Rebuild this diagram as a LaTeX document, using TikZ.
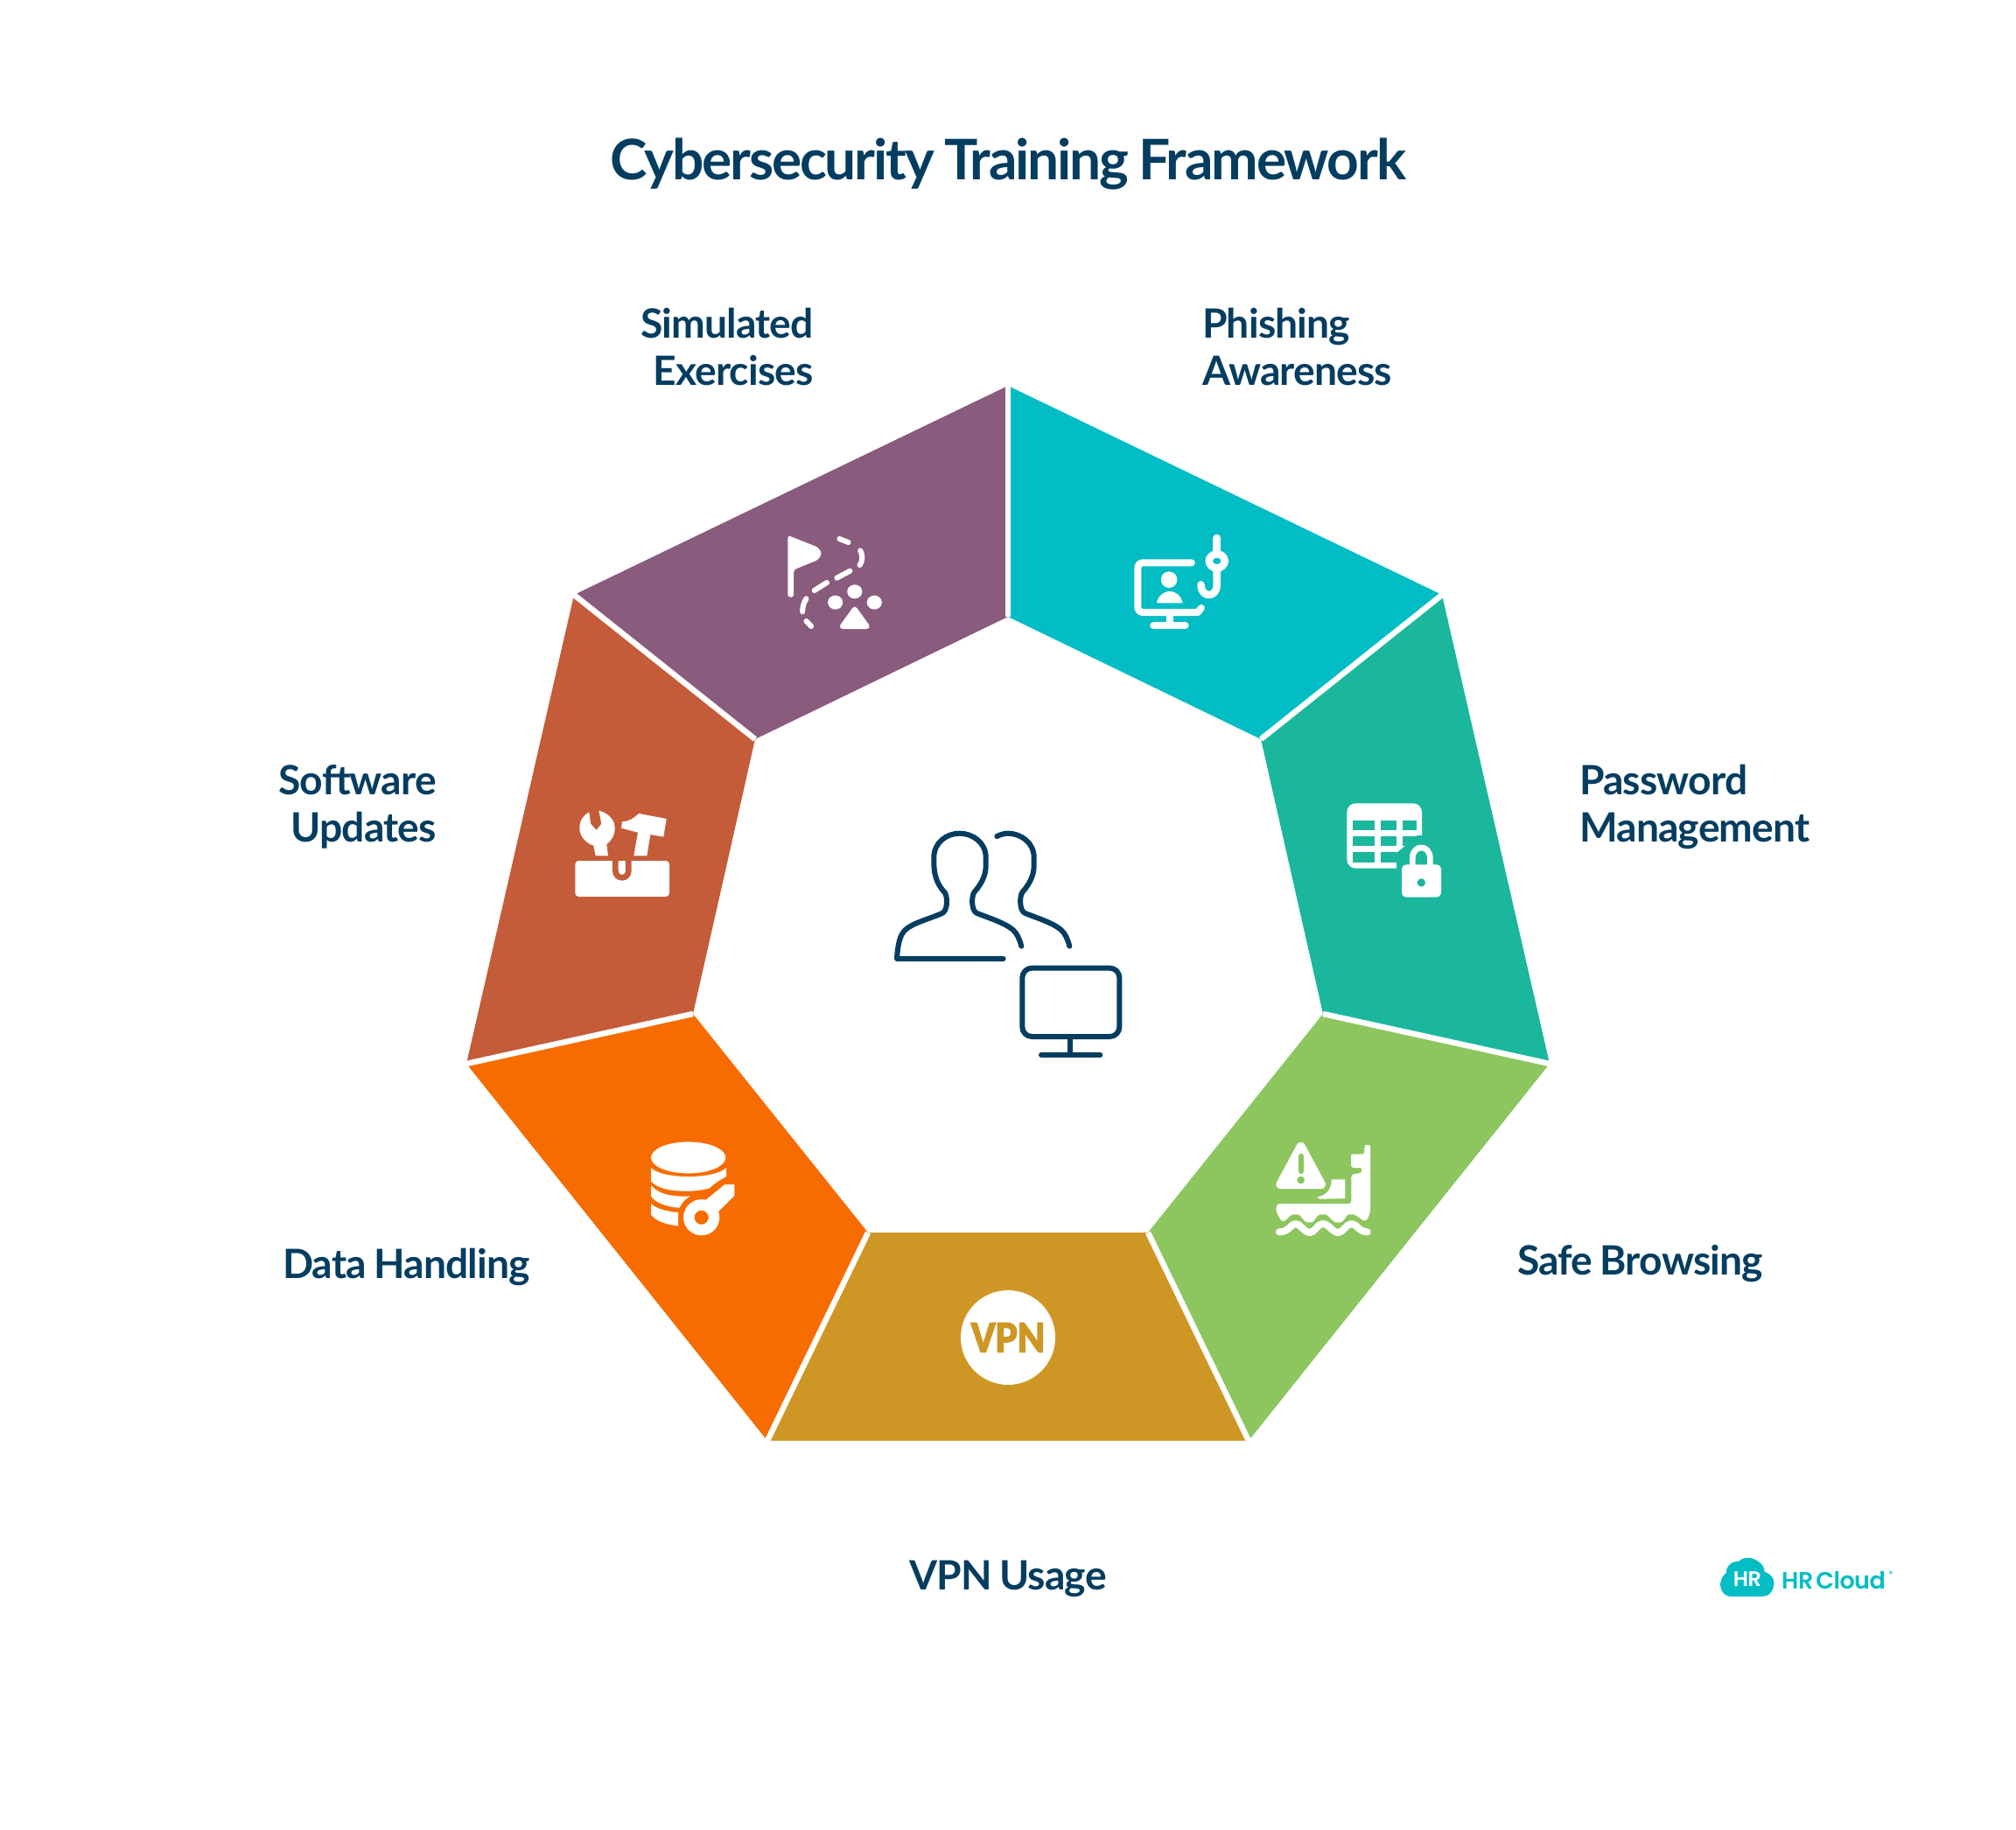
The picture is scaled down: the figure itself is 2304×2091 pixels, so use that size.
\documentclass[tikz,border=0pt]{standalone}
\usepackage{fontspec}
\setmainfont{Lato}[LetterSpace=-3.3,WordSpace=0.8]
\newfontfamily\labelfont{Lato}[LetterSpace=-1.8,WordSpace=0.8]
\newfontfamily\logofont{Poppins SemiBold}[LetterSpace=-2]
\newfontfamily\vpnfont{Carlito Bold}[FakeBold=3]
\definecolor{ink}{HTML}{053D60}
\definecolor{cPurple}{HTML}{895B7D}
\definecolor{cCyan}{HTML}{03BDC5}
\definecolor{cTeal}{HTML}{1BB79D}
\definecolor{cGreen}{HTML}{8DC55F}
\definecolor{cGold}{HTML}{CE9725}
\definecolor{cOrange}{HTML}{F76C00}
\definecolor{cRust}{HTML}{C45C39}
\tikzset{
  zoomat/.style n args={4}{shift={(#1pt,-#2pt)},x=#3pt,y=-#4pt},
  gap/.style={draw=white,line width=6.5pt},
  lbl/.style={font=\fontsize{46.2}{54}\selectfont\labelfont\bfseries,text=ink,inner sep=0pt},
  wfill/.style={fill=white,draw=none},
  wstroke/.style={draw=white,line cap=round,line join=round},
  inkline/.style={draw=ink,line width=6pt,line cap=round,line join=round},
}
\begin{document}
\begin{tikzpicture}[x=1pt,y=-1pt]
\useasboundingbox (0,0) rectangle (2304,2091);
% vertices
\coordinate (o1) at (1152,441);\coordinate (o2) at (1648,680);\coordinate (o3) at (1771,1216);
\coordinate (o4) at (1427,1647);\coordinate (o5) at (877,1647);\coordinate (o6) at (533,1216);\coordinate (o7) at (656,680);
\coordinate (i1) at (1152,705);\coordinate (i2) at (1441,845);\coordinate (i3) at (1512,1159);
\coordinate (i4) at (1312,1409);\coordinate (i5) at (992,1409);\coordinate (i6) at (792,1159);\coordinate (i7) at (863,845);
% sectors
\fill[cCyan] (o1)--(o2)--(i2)--(i1)--cycle;
\fill[cTeal] (o2)--(o3)--(i3)--(i2)--cycle;
\fill[cGreen] (o3)--(o4)--(i4)--(i3)--cycle;
\fill[cGold] (o4)--(o5)--(i5)--(i4)--cycle;
\fill[cOrange] (o5)--(o6)--(i6)--(i5)--cycle;
\fill[cRust] (o6)--(o7)--(i7)--(i6)--cycle;
\fill[cPurple] (o7)--(o1)--(i1)--(i7)--cycle;
\foreach \k in {1,...,7}{\draw[gap] (o\k)--(i\k);}
% title and labels
\node[font=\fontsize{64}{70}\selectfont\bfseries,text=ink,inner sep=0pt] (title) at (1152,187) {Cybersecurity Training Framework};
\node[lbl,anchor=east,align=right] (simulated) at (930,397) {Simulated\\Exercises};
\node[lbl,anchor=west,align=left] (phishing) at (1374,397) {Phishing\\Awareness};
\node[lbl,anchor=west,align=left] (password) at (1805,922) {Password\\Management};
\node[lbl,anchor=east,align=right] (software) at (499,922) {Software\\Updates};
\node[lbl,anchor=west] (safe) at (1734,1445) {Safe Browsing};
\node[lbl,anchor=west] (data) at (323,1448) {Data Handling};
\node[lbl] (vpnusage) at (1152,1805) {VPN Usage};
% centre icon
\begin{scope}[zoomat={1000}{930}{.33333}{.33333}]
\draw[inkline] (440,498) -- (75,498) .. controls (78,450) and (85,415) .. (105,398) .. controls (130,375) and (190,360) .. (230,342) .. controls (248,335) and (250,290) .. (240,272) .. controls (215,245) and (202,215) .. (202,170) -- (202,150) .. controls (202,100) and (245,68) .. (290,68) .. controls (335,68) and (380,100) .. (380,150) -- (380,180) .. controls (380,215) and (362,245) .. (340,270) .. controls (330,285) and (330,335) .. (350,342) .. controls (390,358) and (445,375) .. (472,398) .. controls (488,412) and (495,430) .. (502,455);
\draw[inkline] (418,78) .. controls (430,72) and (445,68) .. (455,68) .. controls (500,68) and (545,100) .. (545,150) -- (545,180) .. controls (545,215) and (527,245) .. (505,270) .. controls (495,285) and (495,335) .. (515,342) .. controls (555,358) and (610,375) .. (637,398) .. controls (653,412) and (660,430) .. (667,455);
\draw[inkline,rounded corners=11pt] (505,530) rectangle (838,765);
\draw[inkline] (670,765)--(670,828);
\draw[inkline] (570,828)--(772,828);
\end{scope}
% simulated + phishing icons
\begin{scope}[zoomat={860}{580}{.35714}{.33333}]
\fill[white,rounded corners=3pt] (113,96)--(210,137)--(222,158)--(210,180)--(132,214)--(132,308)--(113,308)--cycle;
\foreach \c in {(265,326),(327,289),(390,326)}{\fill[white] \c ellipse [x radius=24,y radius=24];}
\draw[wstroke,fill=white,line width=6pt] (327,350)--(366,408)--(288,408)--cycle;
\draw[wstroke,line width=6pt] (278,108)--(307,120);
\draw[wstroke,line width=6pt] (345,148) .. controls (354,165) and (352,185) .. (343,198);
\draw[wstroke,line width=6pt] (312,218)--(270,242);
\draw[wstroke,line width=6pt] (238,258)--(198,285);
\draw[wstroke,line width=6pt] (172,313) .. controls (162,330) and (160,345) .. (160,358);
\draw[wstroke,line width=6pt] (172,390)--(188,408);
% phishing
\draw[wstroke,line width=8pt,rounded corners=5pt] (1405,190)--(1233,190)--(1233,360)--(1425,360);
\draw[wstroke,line width=8pt] (1425,360)--(1436,345);
\draw[wstroke,line width=8pt] (1335,360)--(1335,405);
\draw[wstroke,line width=8pt] (1283,405)--(1385,405);
\fill[white] (1333,248) ellipse [x radius=26,y radius=28];
\fill[white,rounded corners=1pt] (1293,328) .. controls (1300,300) and (1320,288) .. (1335,288) .. controls (1350,288) and (1370,300) .. (1377,328) -- cycle;
\draw[wstroke,line width=8.5pt] (1486,105)--(1486,150);
\draw[wstroke,line width=8.5pt] (1486,215)--(1486,265) .. controls (1486,312) and (1435,312) .. (1435,265);
\draw[white,line width=8.5pt] (1486,184) ellipse [x radius=25,y radius=24];
\end{scope}
% software
\begin{scope}[zoomat={630}{900}{.33333}{.33333}]
\fill[white,rounded corners=4pt] (82,252)--(405,252)--(405,375)--(82,375)--cycle;
\draw[cRust,line width=6.7pt] (220,245)--(220,285) .. controls (220,318) and (265,318) .. (265,285)--(265,245);
\fill[white] (130,85) -- (135,125) -- (155,147) -- (172,125) -- (163,80) .. controls (200,90) and (218,115) .. (218,140) .. controls (218,165) and (205,185) .. (190,195) -- (195,235) -- (152,235) -- (145,200) .. controls (115,190) and (97,165) .. (97,140) .. controls (97,115) and (110,95) .. (130,85) -- cycle;
\fill[white] (300,90)--(395,108)--(385,170)--(340,162)--(328,235)--(283,235)--(297,155)--(240,140)--(243,118) .. controls (265,118) and (285,105) .. (300,90) -- cycle;
\end{scope}
% password
\begin{scope}[zoomat={1510}{900}{.33333}{.33333}]
\fill[white,rounded corners=10pt] (88,55) rectangle (345,278);
\foreach \xa/\xb in {108/183,203/258,278/327}{\foreach \ya/\yb in {113/148,168/202,222/258}{\fill[cTeal] (\xa,\ya) rectangle (\xb,\yb);}}
\fill[cTeal] (258,225)--(295,195)--(395,195)--(395,280)--(258,280)--cycle;
\fill[cTeal] (327,165) rectangle (350,200);
\fill[white,rounded corners=5pt] (276,265) rectangle (411,377);
\draw[white,line width=6.7pt] (313,270)--(313,243) .. controls (313,195) and (373,195) .. (373,243)--(373,270);
\fill[cTeal] (343,327) circle [radius=14];
\end{scope}
% database
\begin{scope}[zoomat={720}{1290}{.33333}{.33333}]
\fill[white] (200,100) ellipse [x radius=128,y radius=54];
\fill[white] (72,135) .. controls (110,175) and (290,175) .. (330,135) -- (330,165) .. controls (310,175) and (295,185) .. (272,205) .. controls (215,222) and (100,220) .. (72,180) -- cycle;
\fill[white] (72,195) .. controls (100,230) and (160,235) .. (207,232) .. controls (190,240) and (178,255) .. (170,272) .. controls (130,270) and (85,255) .. (72,232) -- cycle;
\fill[white] (72,258) .. controls (90,275) and (125,285) .. (165,288) -- (165,334) .. controls (120,330) and (85,315) .. (72,295) -- cycle;
\fill[white] (260,245)--(325,192)--(358,192)--(358,230)--(300,288)--cycle;
\draw[white,line width=12.5pt] (245,305) circle [radius=43];
\end{scope}
% safe browsing
\begin{scope}[zoomat={1440}{1290}{.33333}{.33333}]
\draw[wstroke,fill=white,line width=10pt] (140,62)--(210,192)--(70,192)--cycle;
\draw[cGreen,line width=6pt,line cap=round] (140,95)--(140,147);
\fill[cGreen] (140,177) circle [radius=13];
\fill[white] (245,175)--(292,175)--(292,240)--(205,242) .. controls (195,238) and (195,234) .. (205,233) .. controls (235,225) and (245,200) .. (245,175) -- cycle;
\fill[white,rounded corners=3pt] (60,258)--(313,258)--(313,158)--(335,155) .. controls (352,150) and (350,135) .. (335,135)--(312,135)--(312,100) .. controls (312,90) and (320,88) .. (330,88)--(345,88) .. controls (355,88) and (358,80) .. (358,70) .. controls (360,55) and (378,55) .. (378,70)--(378,270) .. controls (378,290) and (370,310) .. (358,320) .. controls (340,305) and (325,295) .. (312,295) .. controls (298,295) and (285,322) .. (268,322) .. controls (250,322) and (235,295) .. (215,295) .. controls (195,295) and (185,322) .. (170,322) .. controls (150,322) and (140,295) .. (122,295) .. controls (105,295) and (92,312) .. (78,322) .. controls (65,305) and (55,285) .. (55,270) -- cycle;
\draw[wstroke,line width=8pt] (66,355) .. controls (100,355) and (105,327) .. (122,327) .. controls (140,327) and (150,357) .. (170,357) .. controls (190,357) and (195,327) .. (215,327) .. controls (235,327) and (250,357) .. (268,357) .. controls (285,357) and (295,327) .. (315,327) .. controls (330,327) and (340,355) .. (368,355);
\end{scope}
% vpn
\node[circle,fill=white,minimum size=108pt,inner sep=0pt] (vpndisc) at (1152,1529) {};
\node[font=\fontsize{51}{53}\selectfont\vpnfont,text=cGold,inner sep=0pt,xscale=.93] (vpnmark) at (vpndisc) {VPN};
% logo
\begin{scope}[zoomat={1950}{1770}{.33333}{.33333}]
\fill[cCyan] (85,165) .. controls (62,165) and (48,145) .. (48,125) .. controls (48,105) and (60,90) .. (68,85) .. controls (68,60) and (90,42) .. (110,45) .. controls (125,30) and (150,28) .. (170,40) .. controls (190,50) and (200,65) .. (200,80) .. controls (220,88) and (232,100) .. (232,118) .. controls (232,145) and (215,165) .. (195,165) -- cycle;
\end{scope}
\node[font=\fontsize{24}{26}\selectfont\logofont,text=white,inner sep=0pt] (loghr) at (1997,1805) {HR};
\node[font=\fontsize{27}{29}\selectfont\logofont,text=cCyan,inner sep=0pt,anchor=west] (logname) at (2036,1807) {HR\hspace{3pt}Cloud};
\node[font=\fontsize{9}{10}\selectfont\logofont,text=cCyan,inner sep=0pt] (logreg) at (2161,1799) {®};
\end{tikzpicture}
\end{document}
